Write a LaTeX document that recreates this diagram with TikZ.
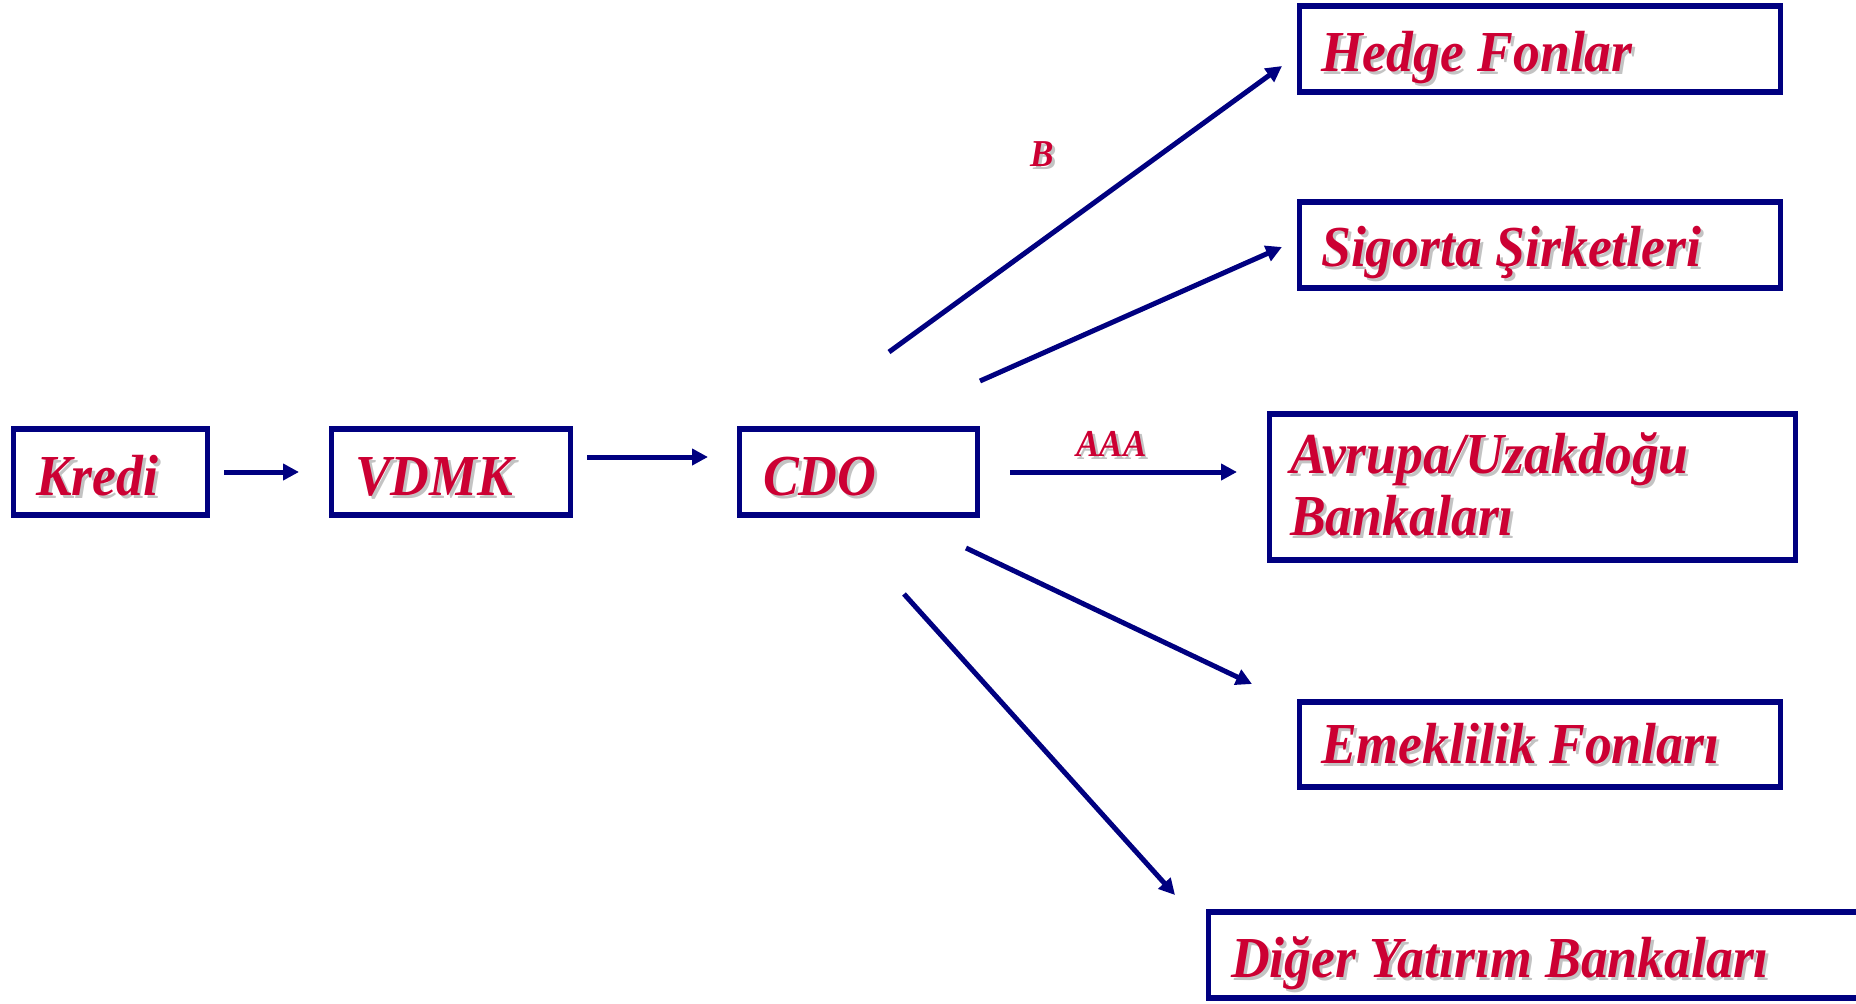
\documentclass[tikz,border=0pt]{standalone}
\usepackage{fontspec}
\setmainfont{Liberation Serif}[FakeStretch=0.925]
\usetikzlibrary{arrows.meta,calc}
\definecolor{navy}{RGB}{0,0,128}
\definecolor{txtred}{RGB}{204,0,51}
\definecolor{shadowgray}{RGB}{195,195,195}
\tikzset{
  box/.style={draw=navy, line width=5.5pt, inner sep=0pt, anchor=north west},
  lbl/.style={anchor=base west, inner sep=0pt, text=txtred, font=\fontsize{58}{66}\selectfont\bfseries\itshape},
  small/.style={anchor=base west, inner sep=0pt, text=txtred, font=\fontsize{38}{44}\selectfont\bfseries\itshape},
  conn/.style={draw=navy, line width=5pt, -{Triangle[length=16pt,width=16pt]}},
}
\newcommand{\shtext}[4]{% name, style, pos, text
  \node[#2, text=shadowgray] at ($#3+(3,3)$) {#4};
  \node[#2] (#1) at #3 {#4};
}
\begin{document}
\begin{tikzpicture}[x=1pt,y=-1pt]
\useasboundingbox (0,0) rectangle (1856,1004);
\clip (0,0) rectangle (1856,1004);
% boxes
\node[box, minimum width=194pt, minimum height=86pt] (kredi) at (10.5,426) {};
\node[box, minimum width=239pt, minimum height=86pt] (vdmk) at (328.5,426) {};
\node[box, minimum width=238pt, minimum height=86pt] (cdo) at (736.5,426) {};
\node[box, minimum width=481pt, minimum height=86pt] (hedge) at (1296.5,3) {};
\node[box, minimum width=481pt, minimum height=86pt] (sigorta) at (1296.5,199) {};
\node[box, minimum width=526pt, minimum height=146pt] (avrupa) at (1266.5,411) {};
\node[box, minimum width=481pt, minimum height=85pt] (emek) at (1296.5,699) {};
\node[box, minimum width=680pt, minimum height=86pt] (diger) at (1205.5,909) {};
% texts
\shtext{tkredi}{lbl}{(36,495)}{Kredi}
\shtext{tvdmk}{lbl}{(355,495)}{VDMK}
\shtext{tcdo}{lbl}{(763,495)}{CDO}
\shtext{thedge}{lbl}{(1321,71)}{Hedge Fonlar}
\shtext{tsig}{lbl}{(1321,266)}{Sigorta Şirketleri}
\shtext{tav1}{lbl}{(1290,473)}{Avrupa/Uzakdoğu}
\shtext{tav2}{lbl}{(1290,535)}{Bankaları}
\shtext{temek}{lbl}{(1321,763)}{Emeklilik Fonları}
\shtext{tdiger}{lbl}{(1231,977)}{Diğer Yatırım Bankaları}
\shtext{tb}{small}{(1030,166)}{B}
\shtext{taaa}{small}{(1076,456)}{AAA}
% connector endpoints
\coordinate (a1s) at (224,472); \coordinate (a1e) at (299,472);
\coordinate (a2s) at (587,457); \coordinate (a2e) at (708,457);
\coordinate (h1) at (889,352); \coordinate (h2) at (1282,66);
\coordinate (s1) at (980,381); \coordinate (s2) at (1282,247);
\coordinate (v1) at (1010,472); \coordinate (v2) at (1237,472);
\coordinate (e1) at (966,548); \coordinate (e2) at (1252,684);
\coordinate (d1) at (904,594); \coordinate (d2) at (1175,895);
\draw[conn] (a1s) -- (a1e);
\draw[conn] (a2s) -- (a2e);
\draw[conn] (h1) -- (h2);
\draw[conn] (s1) -- (s2);
\draw[conn] (v1) -- (v2);
\draw[conn] (e1) -- (e2);
\draw[conn] (d1) -- (d2);
\end{tikzpicture}
\end{document}
